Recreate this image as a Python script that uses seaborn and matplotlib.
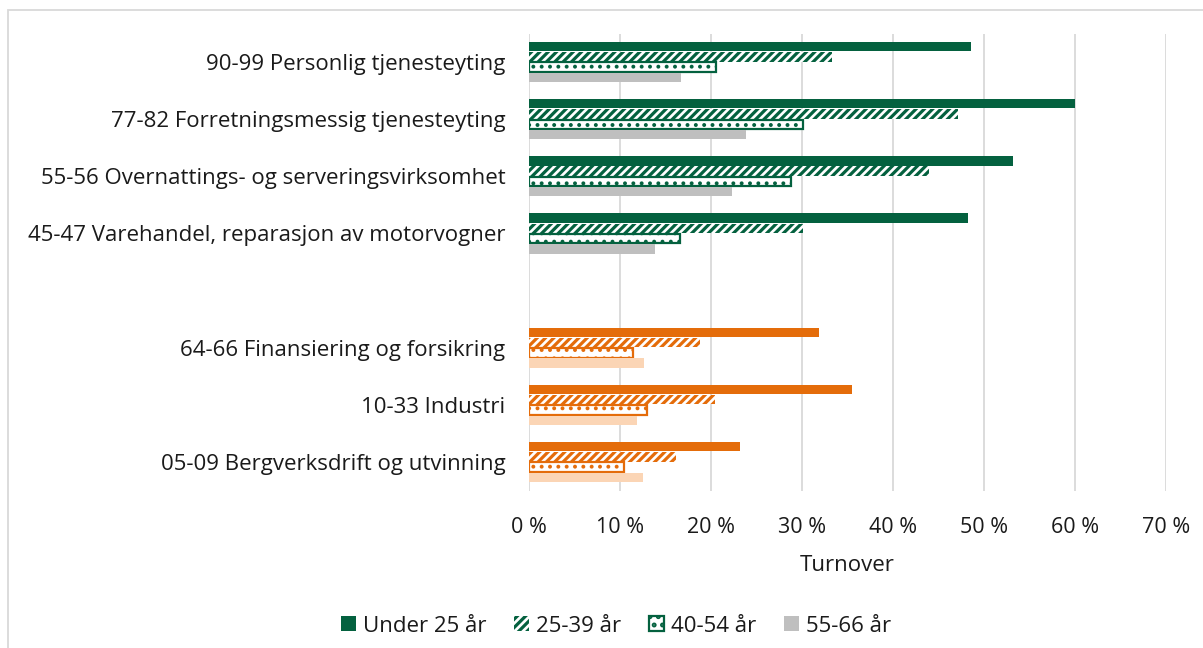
import matplotlib
matplotlib.use("Agg")
import matplotlib.pyplot as plt
from matplotlib.patches import Patch, Rectangle
from matplotlib.ticker import FuncFormatter
import seaborn as sns
import pandas as pd

sns.set_theme(style="white")
plt.rcParams['font.family'] = ['Open Sans', 'DejaVu Sans']
plt.rcParams['hatch.linewidth'] = 2.3

green_cats = ["90-99 Personlig tjenesteyting",
              "77-82 Forretningsmessig tjenesteyting",
              "55-56 Overnattings- og serveringsvirksomhet",
              "45-47 Varehandel, reparasjon av motorvogner"]
orange_cats = ["64-66 Finansiering og forsikring",
               "10-33 Industri",
               "05-09 Bergverksdrift og utvinning"]
order = green_cats + [" "] + orange_cats
ages = ["Under 25 år", "25-39 år", "40-54 år", "55-66 år"]

under25 = [48.6, 60.0, 53.2, 48.2, 31.9, 35.5, 23.2]
a25_39 = [33.3, 47.1, 44.0, 30.1, 18.8, 20.4, 16.1]
a40_54 = [20.6, 30.1, 28.8, 16.6, 11.4, 13.0, 10.4]
a55_66 = [16.7, 23.9, 22.3, 13.9, 12.6, 11.9, 12.5]

cats = green_cats + orange_cats
rows = []
for i, c in enumerate(cats):
    for a, vals in zip(ages, [under25, a25_39, a40_54, a55_66]):
        rows.append({"cat": c, "age": a, "val": vals[i],
                     "grp": "green" if c in green_cats else "orange"})
df = pd.DataFrame(rows)

GREEN = "#04613F"
ORANGE = "#E46C0A"
GRAY = "#BFBFBF"
LORANGE = "#FBD5B5"
TXT = "#1a1a1a"
FS = 16

fig = plt.figure(figsize=(12.03, 6.48), dpi=100)
ax = fig.add_axes([529/1203, 1 - 490.5/648, (1166 - 529)/1203, (490.5 - 33.5)/648])

styles = {
    "green": [(GREEN, GREEN, None), ("white", GREEN, "////"), ("white", GREEN, ".."), (GRAY, GRAY, None)],
    "orange": [(ORANGE, ORANGE, None), ("white", ORANGE, "////"), ("white", ORANGE, ".."), (LORANGE, LORANGE, None)],
}

def dot_lw(p):
    if hasattr(p, "set_hatch_linewidth"):
        p.set_hatch_linewidth(1.6)

for grp in ["green", "orange"]:
    sub = df[df.grp == grp]
    n0 = len(ax.containers)
    sns.barplot(data=sub, x="val", y="cat", hue="age", order=order, hue_order=ages,
                orient="h", width=0.72, gap=0.08, errorbar=None, ax=ax, legend=False)
    for k, cont in enumerate(ax.containers[n0:]):
        fc, ec, hatch = styles[grp][k]
        for bar in cont:
            bar.set_facecolor(fc)
            bar.set_edgecolor(ec)
            if hatch == "////":
                bar.set_hatch(hatch)
                bar.set_linewidth(0)
            elif hatch == "..":
                bar.set_hatch(hatch)
                bar.set_linewidth(1.6)
                dot_lw(bar)
            else:
                bar.set_linewidth(0)

ax.set_xlim(0, 70)
ax.set_ylim(len(order) - 0.5, -0.5)
ax.set_xticks(range(0, 71, 10))
ax.xaxis.set_major_formatter(FuncFormatter(lambda v, p: f"{int(v)} %"))
ax.grid(axis="x", color="#D9D9D9", linewidth=1.3)
ax.grid(axis="y", visible=False)
ax.set_axisbelow(True)
for s in ax.spines.values():
    s.set_visible(False)
ax.tick_params(axis="x", labelsize=15.5, pad=19, length=0, colors=TXT)
ax.tick_params(axis="y", labelsize=FS, pad=17, length=0, colors=TXT)
ax.set_ylabel("")
ax.set_xlabel("Turnover", fontsize=FS, labelpad=12, color=TXT)

dot_handle = Patch(facecolor="white", edgecolor=GREEN, hatch="..", linewidth=1.6)
dot_lw(dot_handle)
handles = [Patch(facecolor=GREEN, edgecolor=GREEN, linewidth=0),
           Patch(facecolor="white", edgecolor=GREEN, hatch="////", linewidth=0),
           dot_handle,
           Patch(facecolor=GRAY, edgecolor=GRAY, linewidth=0)]
fig.legend(handles, ages, loc="center", bbox_to_anchor=(616/1203, 1 - 626/648),
           ncol=4, frameon=False, fontsize=FS, handlelength=0.68, handleheight=0.68,
           handletextpad=0.3, columnspacing=1.25, labelcolor=TXT)

fig.patches.append(Rectangle((8/1203, -0.1), 1.2, 1 - 10.5/648 + 0.1, transform=fig.transFigure,
                             fill=False, edgecolor="#D9D9D9", linewidth=1.3))

fig.savefig("out.png", dpi=100)
